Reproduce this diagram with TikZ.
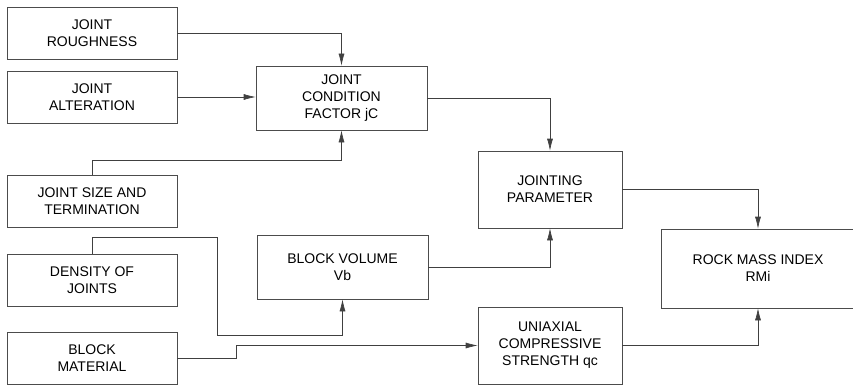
\documentclass[tikz,border=0pt]{standalone}
\usepackage{fontspec}
\setmainfont{Liberation Sans}
\usetikzlibrary{arrows.meta}

\begin{document}
\begin{tikzpicture}[x=1pt,y=-1pt,
    caja/.style={draw=black!70, line width=0.6pt, align=center, inner sep=0pt,
                 font=\fontsize{14}{17}\selectfont},
    izq/.style={caja, minimum width=170pt, minimum height=52pt},
    flecha/.style={draw=black!75, line width=0.6pt, -{Latex[length=12pt,width=6pt]}}]

    % Marco de la figura
    \useasboundingbox (0,0) rectangle (853,385);

    % Cajas de la izquierda
    \node[izq] (rough)    at (92,33)    {JOINT\\ROUGHNESS};
    \node[izq] (alter)    at (92,97)    {JOINT\\ALTERATION};
    \node[izq] (size)     at (92,201.5) {JOINT SIZE AND\\TERMINATION};
    \node[izq] (density)  at (92,280)   {DENSITY OF\\JOINTS};
    \node[izq] (material) at (92,358.5) {BLOCK\\MATERIAL};

    % Cajas centrales
    \node[caja, minimum width=171pt, minimum height=64pt] (jc) at (341.5,98)  {JOINT\\CONDITION\\FACTOR jC};
    \node[caja, minimum width=171pt, minimum height=64pt] (vb) at (342.5,267) {BLOCK VOLUME\\Vb};
    \node[caja, minimum width=144pt, minimum height=77pt] (jp) at (550,189.5) {JOINTING\\PARAMETER};
    \node[caja, minimum width=144pt, minimum height=77pt] (qc) at (550,345.5) {UNIAXIAL\\COMPRESSIVE\\STRENGTH qc};

    % Resultado
    \node[caja, minimum width=194pt, minimum height=79pt] (rmi) at (758,268.5) {ROCK MASS INDEX\\RMi};

    % Conexiones
    \draw[flecha] (rough.east) -| (jc.north);
    \draw[flecha] (alter.east) -- (alter.east -| jc.west);
    \draw[flecha] (size.north) -- ++(0,-15) -| (jc.south);
    \draw[flecha] (density.north) |- ++(125,-16) |- ([yshift=-36pt]vb.south) -- (vb.south);
    \draw[flecha] (material.east) -- ++(59,0) |- (qc.west);
    \draw[flecha] (jc.east) -| (jp.north);
    \draw[flecha] (vb.east) -| (jp.south);
    \draw[flecha] (jp.east) -| (rmi.north);
    \draw[flecha] (qc.east) -| (rmi.south);
\end{tikzpicture}
\end{document}
